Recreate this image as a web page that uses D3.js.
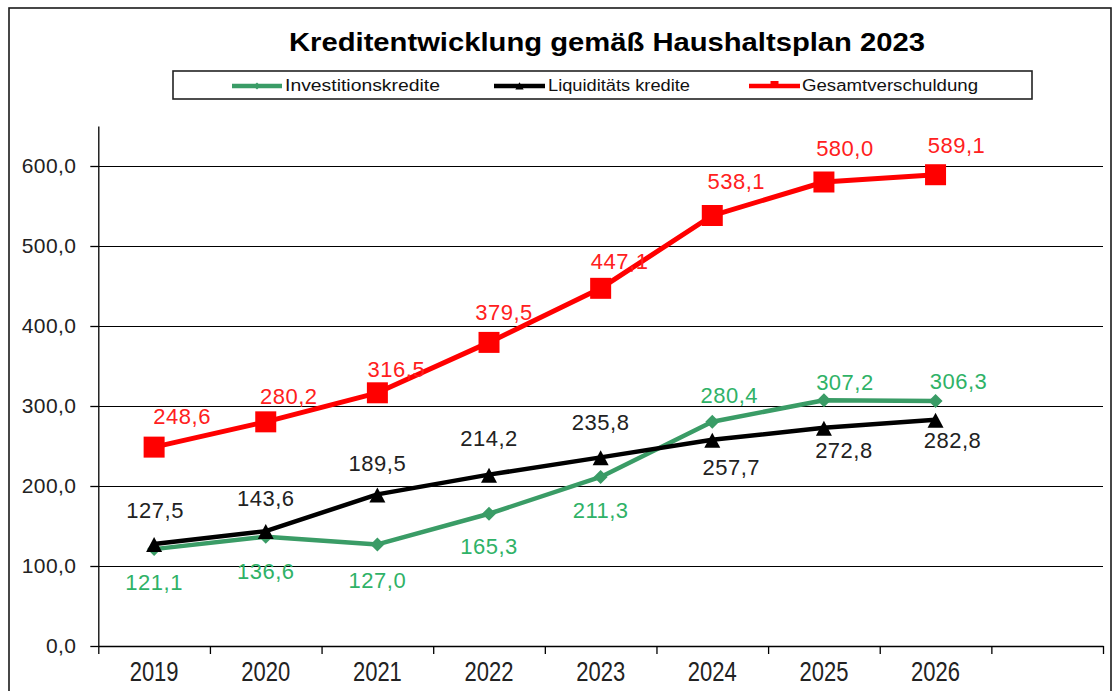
<!DOCTYPE html>
<html>
<head>
<meta charset="utf-8">
<script src="https://cdn.jsdelivr.net/npm/d3@7"></script>
<style>
  html, body { margin: 0; padding: 0; background: #fff; }
  svg { display: block; font-family: Arial, "Liberation Sans", sans-serif; }
</style>
</head>
<body>
<svg id="chart" width="1115" height="691"></svg>
<script>
// Jahre und Werte (Mio. €)
const years = ["2019", "2020", "2021", "2022", "2023", "2024", "2025", "2026"];
const investitionskredite = [121.1, 136.6, 127.0, 165.3, 211.3, 280.4, 307.2, 306.3];
const liquiditaetskredite = [127.5, 143.6, 189.5, 214.2, 235.8, 257.7, 272.8, 282.8];
const gesamtverschuldung = [248.6, 280.2, 316.5, 379.5, 447.1, 538.1, 580.0, 589.1];
const yTicks = [0, 100, 200, 300, 400, 500, 600];
const seriesNames = ["Investitionskredite", "Liquiditäts kredite", "Gesamtverschuldung"];
const title = "Kreditentwicklung gemäß Haushaltsplan 2023";

// Lage der Datenbeschriftungen relativ zum Punkt (dx, dy zur Textmitte)
const labelOffsetsInv = [[0, 33], [0, 35], [0, 36], [0, 33], [0, 33], [17, -26], [21, -18], [23, -20]];
const labelOffsetsLiq = [[1, -34], [0, -33], [0, -31], [0, -36], [0, -35], [19, 27], [20, 23], [17, 21]];
const labelOffsetsGes = [[28, -31], [23, -26], [19, -24], [15, -30], [19, -27], [24, -34], [21, -34], [21, -29]];

const svg = d3.select("#chart");
const fmt = v => v.toFixed(1).replace(".", ",");

const plot = { left: 98.3, right: 1103, top: 126, bottom: 646 };
const slots = years.length + 1; // eine leere Kategorie am Ende

const x = d3.scaleLinear().domain([0, slots]).range([plot.left, plot.right]);
const y = d3.scaleLinear().domain([0, 650]).range([plot.bottom, plot.top]);
const xc = i => x(i + 0.5);

// Rahmen
svg.append("rect")
  .attr("x", 9).attr("y", 8).attr("width", 1102).attr("height", 700)
  .attr("fill", "#fff").attr("stroke", "#1a1a1a").attr("stroke-width", 1.6);

// Titel
svg.append("text")
  .attr("x", 607).attr("y", 51)
  .attr("text-anchor", "middle")
  .attr("font-size", 25).attr("font-weight", "bold")
  .attr("textLength", 636).attr("lengthAdjust", "spacingAndGlyphs")
  .text(title);

// Legende
const legend = svg.append("g");
legend.append("rect")
  .attr("x", 173).attr("y", 71).attr("width", 859).attr("height", 28)
  .attr("fill", "#fff").attr("stroke", "#222").attr("stroke-width", 1.6);

const colors = { inv: "#3a9c66", invLabel: "#2fb267", liq: "#000", ges: "#ff0000" };

const legendItems = [
  { name: seriesNames[0], color: colors.inv, x0: 232, x1: 282, tx: 285, tw: 155, shape: "diamond" },
  { name: seriesNames[1], color: colors.liq, x0: 494, x1: 545, tx: 548, tw: 142, shape: "triangle" },
  { name: seriesNames[2], color: colors.ges, x0: 749, x1: 800, tx: 802, tw: 176, shape: "square" }
];

const symbolFor = (shape, size) => {
  const t = shape === "diamond" ? d3.symbolDiamond2 : shape === "triangle" ? d3.symbolTriangle : d3.symbolSquare;
  return d3.symbol().type(t).size(size)();
};

legendItems.forEach(it => {
  legend.append("line")
    .attr("x1", it.x0).attr("x2", it.x1).attr("y1", 86).attr("y2", 86)
    .attr("stroke", it.color).attr("stroke-width", 4.5);
  if (it.shape === "square") {
    legend.append("rect").attr("x", (it.x0 + it.x1) / 2 - 4).attr("y", 81)
      .attr("width", 8).attr("height", 6).attr("fill", it.color);
  } else if (it.shape === "triangle") {
    legend.append("path").attr("transform", `translate(${(it.x0 + it.x1) / 2},87)`)
      .attr("d", symbolFor("triangle", 30)).attr("fill", it.color);
  } else {
    legend.append("path").attr("transform", `translate(${(it.x0 + it.x1) / 2},86)`)
      .attr("d", symbolFor("diamond", 30)).attr("fill", it.color);
  }
  legend.append("text")
    .attr("x", it.tx).attr("y", 91)
    .attr("font-size", 16).attr("fill", "#111")
    .attr("textLength", it.tw).attr("lengthAdjust", "spacingAndGlyphs")
    .text(it.name);
});

// Gitternetzlinien
svg.append("g").selectAll("line")
  .data(yTicks.filter(v => v > 0))
  .join("line")
  .attr("x1", plot.left).attr("x2", plot.right)
  .attr("y1", d => Math.round(y(d)) + 0.5).attr("y2", d => Math.round(y(d)) + 0.5)
  .attr("stroke", "#000").attr("stroke-width", 1);

// Y-Achse
const yAxis = svg.append("g")
  .attr("transform", `translate(${plot.left},0)`)
  .call(d3.axisLeft(y).tickValues(yTicks).tickFormat(fmt).tickSize(8).tickSizeOuter(0).tickPadding(14));
yAxis.select(".domain").attr("stroke", "#000").attr("stroke-width", 1.3);
yAxis.selectAll(".tick line").attr("stroke", "#000").attr("stroke-width", 1.3);
yAxis.selectAll(".tick text")
  .attr("font-size", 21).attr("fill", "#222").attr("font-family", "Arial, 'Liberation Sans', sans-serif")
  .attr("letter-spacing", 0.4);

// X-Achse
const xAxis = svg.append("g")
  .attr("transform", `translate(0,${plot.bottom})`)
  .call(d3.axisBottom(x).tickValues(d3.range(slots + 1)).tickFormat("").tickSize(8).tickSizeOuter(0));
xAxis.select(".domain").attr("stroke", "#000").attr("stroke-width", 1.6);
xAxis.selectAll(".tick line").attr("stroke", "#000").attr("stroke-width", 1.3);

svg.append("g").selectAll("text")
  .data(years)
  .join("text")
  .attr("text-anchor", "middle")
  .attr("transform", (d, i) => `translate(${xc(i)},681) scale(1,1.25)`)
  .attr("font-size", 22).attr("fill", "#222")
  .text(d => d);

// Linien
const line = d3.line().x((d, i) => xc(i)).y(d => y(d));

const series = [
  { values: investitionskredite, color: colors.inv, labelColor: colors.invLabel, width: 4.5, shape: "diamond", offsets: labelOffsetsInv },
  { values: liquiditaetskredite, color: colors.liq, labelColor: "#222", width: 4.5, shape: "triangle", offsets: labelOffsetsLiq },
  { values: gesamtverschuldung, color: colors.ges, labelColor: "#ff2020", width: 5, shape: "square", offsets: labelOffsetsGes }
];

// Reihenfolge: grün, schwarz, rot
series.forEach(s => {
  svg.append("path")
    .datum(s.values)
    .attr("fill", "none")
    .attr("stroke", s.color)
    .attr("stroke-width", s.width)
    .attr("stroke-linejoin", "round")
    .attr("d", line);
});

series.forEach(s => {
  const g = svg.append("g");
  g.selectAll("path")
    .data(s.values)
    .join("path")
    .attr("transform", (d, i) => {
      const dy = s.shape === "triangle" ? 2 : 0;
      return `translate(${xc(i)},${y(d) + dy})`;
    })
    .attr("d", () => {
      if (s.shape === "square") return "M-10.5,-10.5h21v21h-21z";
      if (s.shape === "triangle") return "M0,-9L8,6L-8,6Z";
      return "M0,-7L7,0L0,7L-7,0Z";
    })
    .attr("fill", s.color);

  g.selectAll("text")
    .data(s.values)
    .join("text")
    .attr("x", (d, i) => xc(i) + s.offsets[i][0])
    .attr("y", (d, i) => y(d) + s.offsets[i][1])
    .attr("dy", "0.35em")
    .attr("text-anchor", "middle")
    .attr("font-size", 22)
    .attr("letter-spacing", 0.5)
    .attr("fill", s.labelColor)
    .text(fmt);
});
</script>
</body>
</html>
